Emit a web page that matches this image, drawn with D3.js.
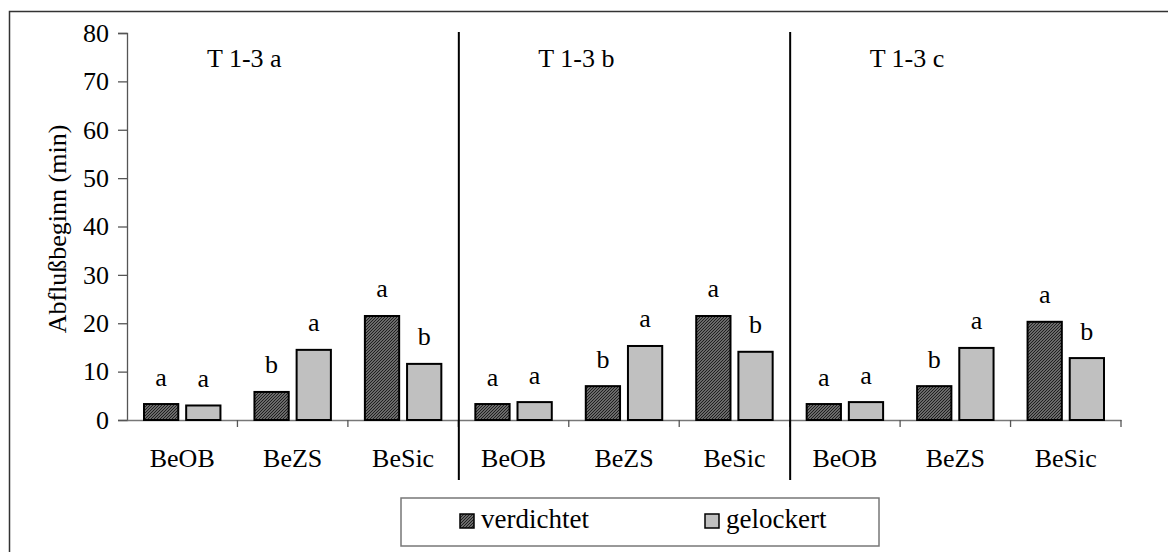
<!DOCTYPE html>
<html><head><meta charset="utf-8">
<script src="https://cdn.jsdelivr.net/npm/d3@7"></script>
<style>
html,body{margin:0;padding:0;background:#fff;}
svg{display:block;}
svg text{font-family:"Liberation Serif","Times New Roman",serif;fill:#000;}
</style></head>
<body>
<svg id="chart" width="1168" height="552"></svg>
<script>
const panels = ["T 1-3 a", "T 1-3 b", "T 1-3 c"];
const categories = ["BeOB", "BeZS", "BeSic"];
const seriesNames = ["verdichtet", "gelockert"];
const verdichtet = [3.3, 5.8, 21.5, 3.3, 7.0, 21.5, 3.3, 7.0, 20.3];
const gelockert = [3.0, 14.5, 11.6, 3.7, 15.3, 14.1, 3.7, 14.9, 12.8];
const lettersVerdichtet = ["a", "b", "a", "a", "b", "a", "a", "b", "a"];
const lettersGelockert = ["a", "a", "b", "a", "a", "b", "a", "a", "b"];
const yTicks = [0, 10, 20, 30, 40, 50, 60, 70, 80];
const yLabel = "Abflußbeginn (min)";

(function () {
const FONT = "Liberation Serif";
const svg = d3.select("#chart");
const defs = svg.append("defs");
const pat = defs.append("pattern").attr("id", "hatch").attr("patternUnits", "userSpaceOnUse")
  .attr("width", 3).attr("height", 3);
pat.append("rect").attr("width", 3).attr("height", 3).attr("fill", "#8a8a8a");
pat.append("path").attr("d", "M-1,1 l2,-2 M0,3 l3,-3 M2,4 l2,-2").attr("stroke", "#1a1a1a").attr("stroke-width", 1.1);

// outer frame (cut off at right/bottom)
svg.append("path").attr("d", "M9.5,1200 V11.5 H1300").attr("fill", "none").attr("stroke", "#333").attr("stroke-width", 1.5);

const pLeft = 127, pRight = 1121, pTop = 33, pBottom = 420;
const slots = [];
panels.forEach((p, pi) => categories.forEach((c, ci) => slots.push(pi * 3 + ci)));
const x0 = d3.scaleBand().domain(slots).range([pLeft, pRight]).padding(0);
const x1 = d3.scaleBand().domain(seriesNames).range([16, x0.bandwidth() - 16]).paddingInner(0.14);
const y = d3.scaleLinear().domain([0, 80]).range([pBottom, pTop]);

// y axis
const yAxis = svg.append("g").attr("transform", `translate(${pLeft},0)`)
  .call(d3.axisLeft(y).tickValues(yTicks).tickSize(9).tickPadding(9));
yAxis.select(".domain").attr("stroke", "#555").attr("stroke-width", 1.3);
yAxis.selectAll(".tick line").attr("stroke", "#555").attr("stroke-width", 1.3);
yAxis.selectAll(".tick text").attr("font-size", 26).attr("font-family", FONT).attr("fill", "#000");

svg.append("text").attr("transform", `translate(66,229) rotate(-90)`).attr("text-anchor", "middle")
  .attr("font-family", FONT).attr("font-size", 26).text(yLabel);

// x axis line + ticks
const xAxis = svg.append("g").attr("transform", `translate(0,${pBottom})`)
  .call(d3.axisBottom(x0).tickValues([]).tickSizeOuter(0));
xAxis.select(".domain").attr("stroke", "#777").attr("stroke-width", 1.3);
const boundaries = slots.map(s => x0(s) + x0.bandwidth());
svg.append("g").selectAll("line").data(boundaries).join("line")
  .attr("x1", d => d).attr("x2", d => d).attr("y1", pBottom).attr("y2", pBottom + 7)
  .attr("stroke", "#555").attr("stroke-width", 1.3);

// category labels
svg.append("g").selectAll("text").data(slots).join("text")
  .attr("x", d => x0(d) + x0.bandwidth() / 2).attr("y", 467).attr("text-anchor", "middle")
  .attr("font-family", FONT).attr("font-size", 26).text(d => categories[d % 3]);

// panel separators
[3, 6].forEach(s => {
  svg.append("line").attr("x1", x0(s) + 0.5).attr("x2", x0(s) + 0.5).attr("y1", 32).attr("y2", 480)
    .attr("stroke", "#000").attr("stroke-width", 2);
});

// panel titles
panels.forEach((p, pi) => {
  svg.append("text").attr("x", x0(pi * 3) + 80).attr("y", 67)
    .attr("font-family", FONT).attr("font-size", 26).text(p);
});

// bars
const data = [];
slots.forEach(s => {
  data.push({ s, k: "verdichtet", v: verdichtet[s], l: lettersVerdichtet[s] });
  data.push({ s, k: "gelockert", v: gelockert[s], l: lettersGelockert[s] });
});
svg.append("g").selectAll("rect").data(data).join("rect")
  .attr("x", d => x0(d.s) + x1(d.k) + 1).attr("width", x1.bandwidth() - 2)
  .attr("y", d => y(d.v)).attr("height", d => y(0) - y(d.v))
  .attr("fill", d => d.k === "verdichtet" ? "url(#hatch)" : "#c0c0c0")
  .attr("stroke", "#000").attr("stroke-width", 2);

svg.append("g").selectAll("text").data(data).join("text")
  .attr("x", d => x0(d.s) + x1(d.k) + x1.bandwidth() / 2).attr("y", d => y(d.v) - 18.5)
  .attr("text-anchor", "middle").attr("font-family", FONT).attr("font-size", 26).text(d => d.l);

// legend
const lg = svg.append("g");
lg.append("rect").attr("x", 401).attr("y", 498).attr("width", 478).attr("height", 48)
  .attr("fill", "#fff").attr("stroke", "#777").attr("stroke-width", 1.5);
const legendX = [460, 705];
seriesNames.forEach((n, i) => {
  lg.append("rect").attr("x", legendX[i]).attr("y", 514).attr("width", 14).attr("height", 14)
    .attr("fill", i === 0 ? "url(#hatch)" : "#c0c0c0").attr("stroke", "#000").attr("stroke-width", 1.5);
  lg.append("text").attr("x", legendX[i] + 21).attr("y", 528)
    .attr("font-family", FONT).attr("font-size", 27).text(n);
});
})();
</script>
</body></html>
